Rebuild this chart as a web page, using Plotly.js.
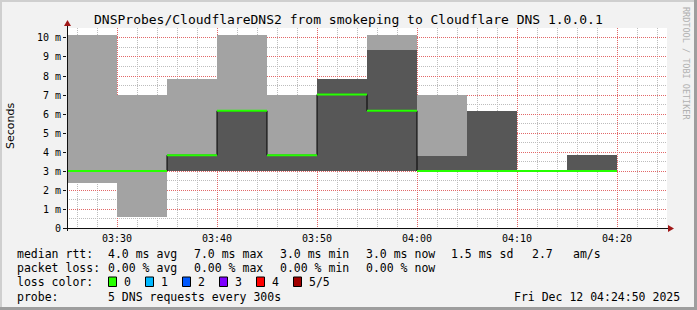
<!DOCTYPE html>
<html><head><meta charset="utf-8">
<script src="https://cdn.plot.ly/plotly-3.0.1.min.js"></script>
<style>html,body{margin:0;padding:0;background:#f2f2f2}</style>
</head>
<body><div id="chart" style="width:697px;height:310px"></div>
<script>
// ---- data (5-minute bins, smokeping style) ----
const binStart = ['2025-12-12 03:25','2025-12-12 03:30','2025-12-12 03:35','2025-12-12 03:40','2025-12-12 03:45','2025-12-12 03:50','2025-12-12 03:55','2025-12-12 04:00','2025-12-12 04:05','2025-12-12 04:10','2025-12-12 04:15'];
const binEnd   = ['2025-12-12 03:30','2025-12-12 03:35','2025-12-12 03:40','2025-12-12 03:45','2025-12-12 03:50','2025-12-12 03:55','2025-12-12 04:00','2025-12-12 04:05','2025-12-12 04:10','2025-12-12 04:15','2025-12-12 04:20'];
const smokeMin  = [2.38, 0.58, 3.0, 3.0, 3.0, 3.0, 3.0, 3.0, 3.0, 3.0, 3.0];
const smokeMax  = [10.16, 7.0, 7.84, 10.16, 7.0, 7.84, 10.16, 7.0, 6.16, 3.0, 3.83];
const innerMin  = [3.0, 3.0, 3.0, 3.0, 3.0, 3.0, 3.0, 3.0, 3.0, 3.0, 3.0];
const innerMax  = [3.0, 3.0, 3.83, 6.17, 3.83, 7.84, 9.37, 3.8, 6.16, 3.0, 3.83];
const medianRtt = [3.0, 3.0, 3.83, 6.17, 3.83, 7.03, 6.17, 3.0, 3.0, 3.0, 3.0];

const yTickVals = [0,1,2,3,4,5,6,7,8,9,10];
const yTickText = ['0','1 m','2 m','3 m','4 m','5 m','6 m','7 m','8 m','9 m','10 m'];
const yMinorVals = [0.5,1.5,2.5,3.5,4.5,5.5,6.5,7.5,8.5,9.5,10.5];
const xMinorVals = ['2025-12-12 03:26','2025-12-12 03:28','2025-12-12 03:32','2025-12-12 03:34','2025-12-12 03:36','2025-12-12 03:38',
  '2025-12-12 03:42','2025-12-12 03:44','2025-12-12 03:46','2025-12-12 03:48','2025-12-12 03:52','2025-12-12 03:54','2025-12-12 03:56','2025-12-12 03:58',
  '2025-12-12 04:02','2025-12-12 04:04','2025-12-12 04:06','2025-12-12 04:08','2025-12-12 04:12','2025-12-12 04:14','2025-12-12 04:16','2025-12-12 04:18',
  '2025-12-12 04:22','2025-12-12 04:24'];

const lossLabels = ['0','1','2','3','4','5/5'];
const lossColors = ['#26ff00','#00b8ff','#0059ff','#7e00ff','#ff0000','#a10000'];

const statsRtt  = ['median rtt:','4.0 ms avg','7.0 ms max','3.0 ms min','3.0 ms now','1.5 ms sd','2.7','am/s'];
const statsLoss = ['packet loss:','0.00 % avg','0.00 % max','0.00 % min','0.00 % now'];
const probeText = ['probe:','5 DNS requests every 300s'];
const stampText = 'Fri Dec 12 04:24:50 2025';
const titleText = 'DNSProbes/CloudflareDNS2 from smokeping to Cloudflare DNS 1.0.0.1';

// ---- helpers: pixel -> paper ----
const L = 67, W = 600, T = 28, H = 200;
const X = px => (px - L) / W;
const Y = py => (T + H - py) / H;
const MONO = 'DejaVu Sans Mono';
const BIN_MS = 300000;

const diff = (a, b) => a.map((v, i) => v - b[i]);

const traces = [
  { type:'bar', x: binEnd, base: smokeMin, y: diff(smokeMax, smokeMin),
    width: BIN_MS, offset: -BIN_MS, marker:{color:'#a3a3a3', line:{width:0}},
    hoverinfo:'skip', showlegend:false },
  { type:'bar', x: binEnd, base: innerMin, y: diff(innerMax, innerMin),
    width: BIN_MS, offset: -BIN_MS, marker:{color:'#575757', line:{width:0}},
    hoverinfo:'skip', showlegend:false },
  { type:'scatter', mode:'lines',
    x: binStart.concat([binEnd[binEnd.length-1]]),
    y: medianRtt.concat([medianRtt[medianRtt.length-1]]),
    line:{shape:'hv', color:'#000000', width:1}, hoverinfo:'skip', showlegend:false }
];
// green median segments
const gx = [], gy = [];
medianRtt.forEach((m, i) => { gx.push(binStart[i], binEnd[i], null); gy.push(m, m, null); });
traces.push({ type:'scatter', mode:'lines', x: gx, y: gy, connectgaps:false,
  line:{color:'#26ff00', width:2}, hoverinfo:'skip', showlegend:false });

const shapes = [];
const annotations = [];
// frame
shapes.push({type:'rect', xref:'paper', yref:'paper', x0:X(0), x1:X(697), y0:Y(0), y1:Y(2), fillcolor:'#cfcfcf', line:{width:0}});
shapes.push({type:'rect', xref:'paper', yref:'paper', x0:X(0), x1:X(2), y0:Y(0), y1:Y(310), fillcolor:'#cfcfcf', line:{width:0}});
shapes.push({type:'rect', xref:'paper', yref:'paper', x0:X(694), x1:X(697), y0:Y(0), y1:Y(310), fillcolor:'#9e9e9e', line:{width:0}});
shapes.push({type:'rect', xref:'paper', yref:'paper', x0:X(0), x1:X(697), y0:Y(307), y1:Y(310), fillcolor:'#9e9e9e', line:{width:0}});
// axes with arrows
shapes.push({type:'line', xref:'paper', yref:'paper', x0:X(64), x1:X(669), y0:Y(228.5), y1:Y(228.5), line:{color:'#101010', width:1}});
shapes.push({type:'line', xref:'paper', yref:'paper', x0:X(67.5), x1:X(67.5), y0:Y(231), y1:Y(25), line:{color:'#101010', width:1}});
shapes.push({type:'path', xref:'paper', yref:'paper',
  path:`M ${X(668)} ${Y(225)} L ${X(674)} ${Y(228.5)} L ${X(668)} ${Y(232)} Z`, fillcolor:'#a01818', line:{width:0}});
shapes.push({type:'path', xref:'paper', yref:'paper',
  path:`M ${X(64)} ${Y(26)} L ${X(67.5)} ${Y(20)} L ${X(71)} ${Y(26)} Z`, fillcolor:'#a01818', line:{width:0}});

// title
annotations.push({xref:'paper', yref:'paper', x:X(348), y:Y(19), xanchor:'center', yanchor:'middle',
  text:titleText, showarrow:false, font:{family:MONO, size:13, color:'#000'}});
// y-axis title
annotations.push({xref:'paper', yref:'paper', x:X(10), y:Y(126), xanchor:'center', yanchor:'middle',
  text:'Seconds', textangle:-90, showarrow:false, font:{family:'DejaVu Sans', size:11, color:'#000'}});
// rrdtool credit
annotations.push({xref:'paper', yref:'paper', x:X(686.5), y:Y(5), xanchor:'center', yanchor:'top',
  text:'RRDTOOL / TOBI OETIKER', textangle:90, showarrow:false, font:{family:MONO, size:8.5, color:'#b0b0b0'}});

const legFont = {family:MONO, size:11.5, color:'#000'};
function txt(s, px, py) {
  annotations.push({xref:'paper', yref:'paper', x:X(px), y:Y(py), xanchor:'left', yanchor:'middle',
    text:s.replace(/ /g,'&nbsp;'), showarrow:false, font:legFont, xshift:-1});
}
const colX = [16, 107.3, 193.3, 279.3, 365, 450, 530.7, 571.7];
statsRtt.forEach((s, i) => txt(s, colX[i], 254));
statsLoss.forEach((s, i) => txt(s, colX[i], 268.3));
txt('loss color:', 16, 282.3);
const boxX = [108.5, 145.5, 182.5, 219.5, 256.5, 293.5];
lossLabels.forEach((s, i) => {
  shapes.push({type:'rect', xref:'paper', yref:'paper', x0:X(boxX[i]), x1:X(boxX[i]+8), y0:Y(277), y1:Y(286.5),
    fillcolor:lossColors[i], line:{color:'#000', width:1}});
  txt(s, boxX[i]+14.5, 282.3);
});
txt(probeText[0], 16, 296.7);
txt(probeText[1], 107.3, 296.7);
txt(stampText, 513.3, 296.7);

const layout = {
  width:697, height:310,
  margin:{l:L, r:697-L-W, t:T, b:310-T-H, pad:0},
  paper_bgcolor:'#f2f2f2', plot_bgcolor:'#ffffff',
  barmode:'overlay', bargap:0, showlegend:false,
  xaxis:{type:'date', range:['2025-12-12 03:25','2025-12-12 04:25'],
    tick0:'2025-12-12 03:30', dtick:600000, tickformat:'%H:%M',
    showgrid:true, gridcolor:'#e26868', griddash:'1px,1px', gridwidth:1,
    minor:{tickmode:'array', tickvals:xMinorVals, showgrid:true, gridcolor:'#bdbdbd', griddash:'1px,1px', gridwidth:1},
    ticks:'outside', ticklen:1, tickcolor:'rgba(0,0,0,0)',
    tickfont:{family:MONO, size:10, color:'#000'},
    showline:false, zeroline:false, fixedrange:true},
  yaxis:{range:[0,10.526], tickvals:yTickVals, ticktext:yTickText,
    showgrid:true, gridcolor:'#e26868', griddash:'1px,1px', gridwidth:1,
    minor:{tickmode:'array', tickvals:yMinorVals, showgrid:true, gridcolor:'#bdbdbd', griddash:'1px,1px', gridwidth:1},
    ticks:'outside', ticklen:3, tickcolor:'#101010',
    tickfont:{family:MONO, size:10, color:'#000'},
    showline:false, zeroline:false, fixedrange:true},
  shapes: shapes,
  annotations: annotations
};

Plotly.newPlot('chart', traces, layout, {displayModeBar:false, staticPlot:true});
</script>
</body></html>
